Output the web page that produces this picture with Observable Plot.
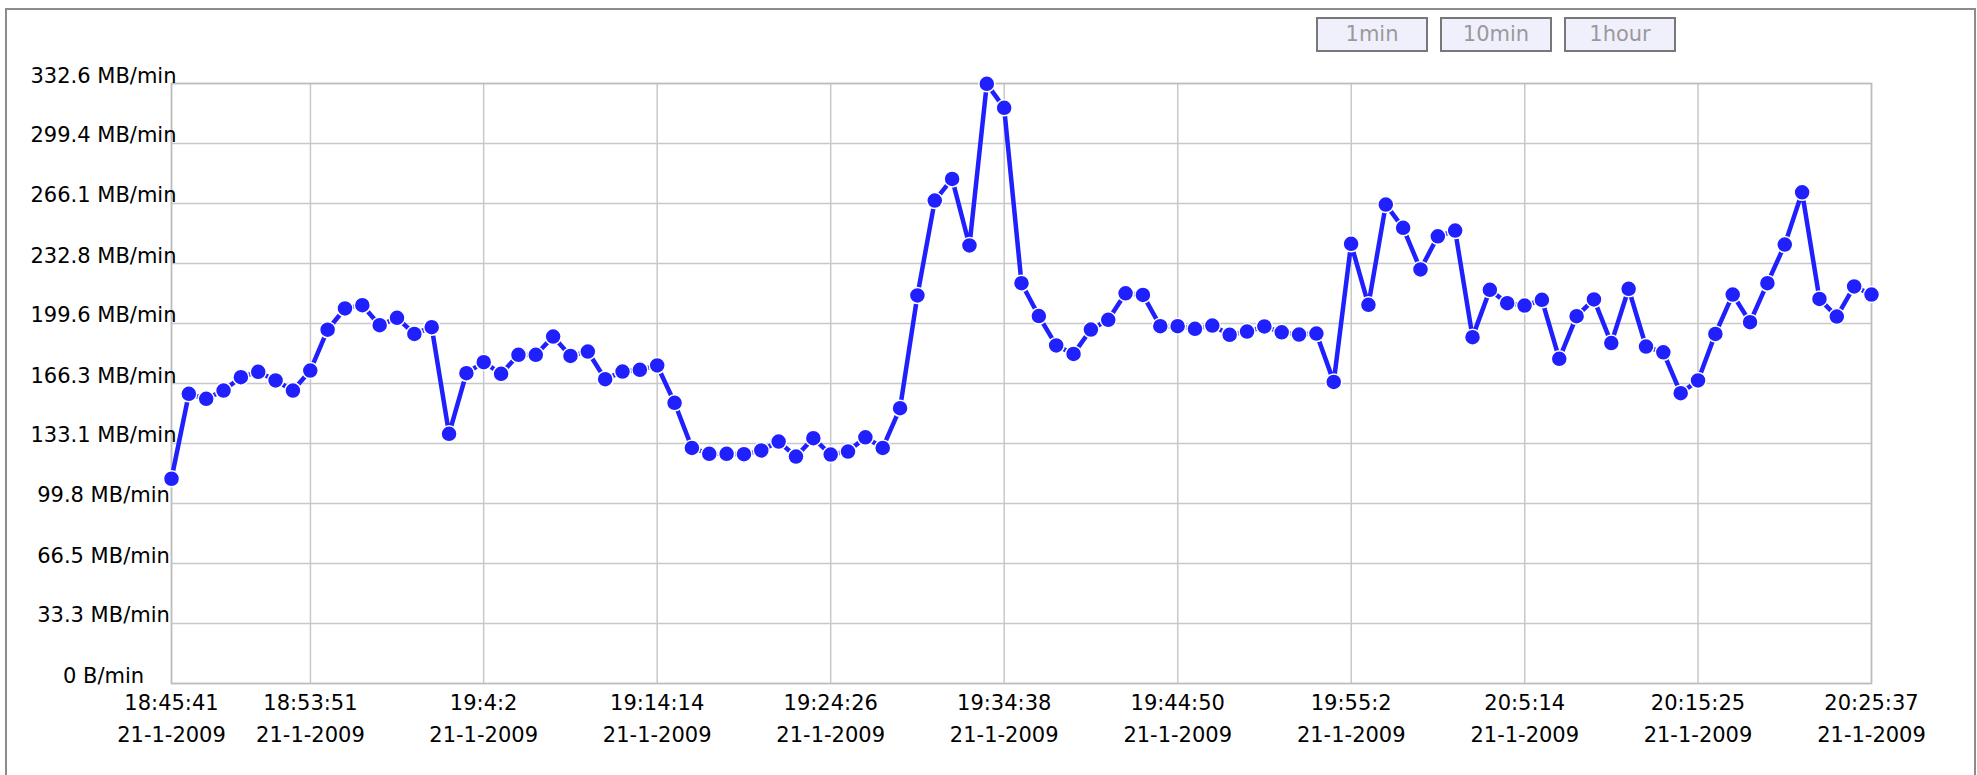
<!DOCTYPE html>
<html><head><meta charset="utf-8">
<script src="https://cdn.jsdelivr.net/npm/d3@7"></script>
<script src="https://cdn.jsdelivr.net/npm/@observablehq/plot@0.6"></script>
<style>
body{margin:0;background:#fff;width:1977px;height:775px;overflow:hidden;position:relative;font-family:"DejaVu Sans",sans-serif}
#border{position:absolute;left:5px;top:8px;width:1971px;height:820px;border:2px solid #8c8c8c;box-sizing:border-box}
.btn{position:absolute;top:17px;height:35px;width:112px;box-sizing:border-box;border:2px solid #777;background:#f0f0fd;color:#9a9a9a;font-size:21px;line-height:31px;text-align:center}
#chart{position:absolute;left:0;top:0}
</style></head><body>
<div id="border"></div>
<div id="buttons"></div>
<div id="chart"></div>
<script>
const startTime = "18:45:41";
const endTime = "20:25:37";
const values = [
113.5,160.6,157.8,162.4,169.8,172.8,168.0,162.4,173.5,196.1,
207.9,209.7,198.6,202.7,193.8,197.5,138.4,172.0,178.1,171.7,
182.2,182.2,192.3,181.6,184.0,168.7,172.9,173.9,176.3,155.6,
130.6,127.3,127.3,127.1,129.2,134.1,125.8,136.0,126.9,128.6,
136.5,130.6,152.6,215.1,267.7,279.7,242.8,332.4,319.1,221.9,
203.7,187.4,182.7,196.2,201.6,216.3,215.4,198.1,198.1,196.6,
198.4,193.3,195.1,197.9,194.7,193.4,194.0,167.2,243.7,209.9,
265.5,252.6,229.5,247.9,251.1,192.0,218.2,210.8,209.5,212.7,
180.0,203.6,212.9,188.7,218.8,186.8,183.6,160.9,168.0,193.8,
215.6,200.3,221.9,243.3,272.3,213.2,203.4,220.1,215.6
];
const tickTimes = ["18:45:41","18:53:51","19:4:2","19:14:14","19:24:26","19:34:38","19:44:50","19:55:2","20:5:14","20:15:25","20:25:37"];
const tickDates = ["21-1-2009","21-1-2009","21-1-2009","21-1-2009","21-1-2009","21-1-2009","21-1-2009","21-1-2009","21-1-2009","21-1-2009","21-1-2009"];
const yTickValues = [0,33.3,66.5,99.8,133.1,166.3,199.6,232.8,266.1,299.4,332.6];
const yTickLabels = ["0 B/min","33.3 MB/min","66.5 MB/min","99.8 MB/min","133.1 MB/min","166.3 MB/min","199.6 MB/min","232.8 MB/min","266.1 MB/min","299.4 MB/min","332.6 MB/min"];
const buttonLabels = ["1min","10min","1hour"];
const buttonLeft = [1316,1440,1564];

function toDate(s){const [h,m,sec]=s.split(":").map(Number);return new Date(Date.UTC(2009,0,21,h,m,sec));}
const t0 = toDate(startTime), t1 = toDate(endTime);
const step = (t1 - t0) / (values.length - 1);
const data = values.map((v,i)=>({t:new Date(+t0 + i*step), v}));
const xTicks = tickTimes.map(toDate);

const bdiv = document.getElementById("buttons");
buttonLabels.forEach((b,i)=>{const d=document.createElement("div");d.className="btn";d.style.left=buttonLeft[i]+"px";d.textContent=b;bdiv.appendChild(d);});

const blue = "#2020ff";
const chart = Plot.plot({
  width:1977, height:775,
  marginLeft:171, marginRight:106, marginTop:83, marginBottom:92,
  style:{fontFamily:"DejaVu Sans", fontSize:"21px", color:"#000", background:"transparent"},
  x:{type:"utc", domain:[t0,t1], label:null},
  y:{domain:[0,332.6], label:null},
  marks:[
    Plot.gridX(xTicks,{stroke:"#c8c8c8", strokeOpacity:1, strokeWidth:1.5}),
    Plot.gridY(yTickValues,{stroke:"#c8c8c8", strokeOpacity:1, strokeWidth:1.5}),
    Plot.frame({stroke:"#bdbdbd", strokeWidth:1.5}),
    Plot.axisX(xTicks,{label:null, tickSize:0, tickPadding:3, lineHeight:1.55, fontSize:21,
      tickFormat:d=>{const i=xTicks.findIndex(x=>+x===+d);return tickTimes[i]+"\n"+tickDates[i];}}),
    Plot.axisY(yTickValues,{label:null, tickSize:0, tickPadding:68, textAnchor:"middle", lineAnchor:"bottom", dy:-1, fontSize:21,
      tickFormat:d=>yTickLabels[yTickValues.indexOf(d)]}),
    Plot.line(data,{x:"t", y:"v", stroke:blue, strokeWidth:4.5}),
    Plot.dot(data,{x:"t", y:"v", r:8, fill:blue, stroke:"#fff", strokeWidth:1.5})
  ]
});
document.getElementById("chart").appendChild(chart);
</script>
</body></html>
